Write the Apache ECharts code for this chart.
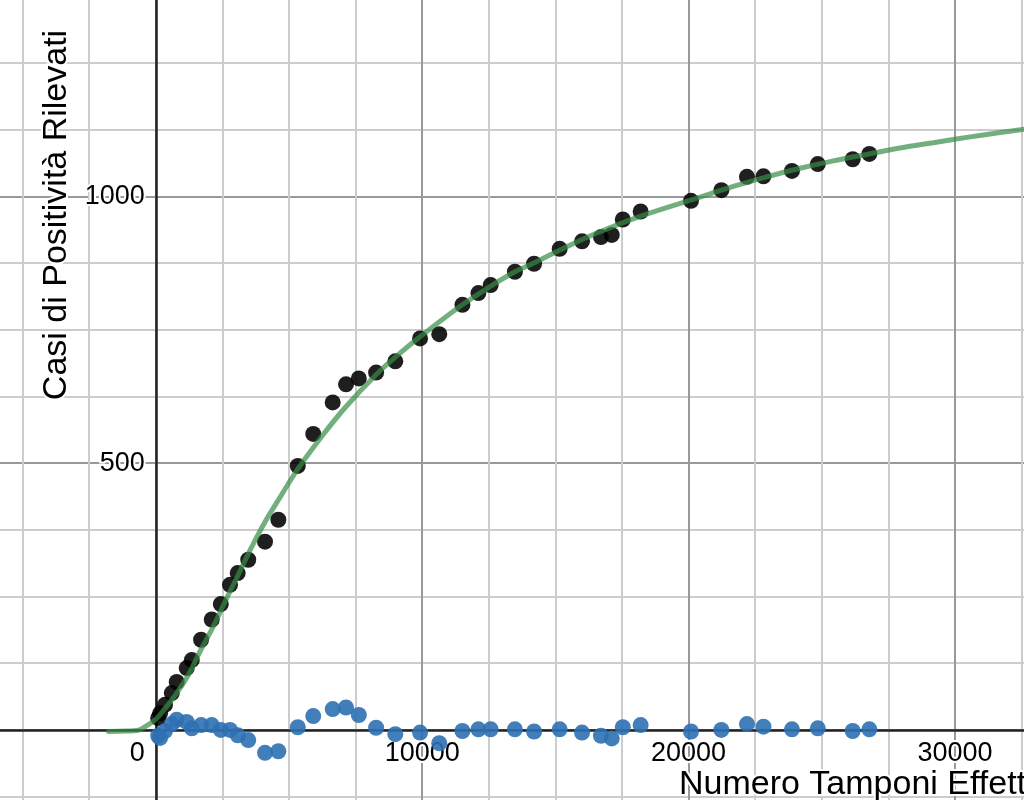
<!DOCTYPE html>
<html>
<head>
<meta charset="utf-8">
<script src="https://cdn.jsdelivr.net/npm/echarts@6/dist/echarts.min.js"></script>
<style>
  html, body { margin: 0; padding: 0; background: #fff; }
  #chart { width: 1024px; height: 800px; }
</style>
</head>
<body>
<div id="chart"></div>
<script>
// Data
const tamponi = [90,160,345,600,785,1160,1350,1700,2100,2440,2785,3075,3470,4100,4600,5330,5910,6640,7140,7620,8270,8990,9920,10640,11510,12110,12570,13480,14200,15160,16000,16710,17115,17530,18200,20090,21230,22190,22810,23880,24850,26160,26785];
const casi = [22,31,47,69,90,116,131,169,207,236,272,294,319,353,394,495,555,614,648,659,670,691,734,742,797,819,834,859,874,902,916,924,928,957,972,992,1012,1037,1038,1048,1061,1070,1080];
const residui = [-11,-15,-2,11,19,15,3,9,9,0,0,-10,-19,-43,-40,5,26,39,42,28,4,-8,-5,-25,-2,1,1,1,-3,1,-5,-11,-16,5,9,-3,0,11,6,1,3,-2,1];
const curvaX = [-1783,-1092,-706,-342,0,345,785,1220,1659,2159,2662,3086,3600,4099,4662,5327,6164,7102,8266,9092,9918,11506,12572,13484,14172,15425,16675,18177,20429,21679,22933,24183,25433,26687,27937,29187,30441,31691,32817];
const curvaY = [-3,-2,-1,8,20,40,69,103,147,194,247,290,343,390,436,489,546,604,666,703,737,797,832,859,875,906,934,963,999,1019,1037,1053,1067,1079,1091,1101,1111,1120,1128];
const xTickLabels = [10000, 20000, 30000];
const yTickLabels = [500, 1000];
const xTitle = 'Numero Tamponi Effettuati';
const yTitle = 'Casi di Positività Rilevati';

const FONT = '"Liberation Sans", Arial, sans-serif';
const chart = echarts.init(document.getElementById('chart'), null, { renderer: 'canvas' });

// layout: grid deliberately larger than the canvas so that the visible window
// is roughly x in [-5850, 32600], y in [-130, 1370]
const GRID = { left: -110.6, top: -70.1, width: 1332, height: 1066.67 };
const X_MIN = -10000, X_MAX = 40000, Y_MIN = -500, Y_MAX = 1500;
// offsets that bring each axis onto the other's zero
const xOffset = -GRID.height * (0 - Y_MIN) / (Y_MAX - Y_MIN);
const yOffset = -GRID.width * (0 - X_MIN) / (X_MAX - X_MIN);

const labelStyle = {
  fontFamily: FONT,
  fontSize: 27,
  color: '#000',
  textBorderColor: '#fff',
  textBorderWidth: 4
};

chart.setOption({
  animation: false,
  backgroundColor: '#fff',
  grid: Object.assign({ containLabel: false, outerBoundsMode: 'none' }, GRID),
  xAxis: {
    type: 'value',
    position: 'bottom',
    offset: xOffset,
    min: X_MIN, max: X_MAX, interval: 10000,
    axisLine: { onZero: false, lineStyle: { color: '#222', width: 2.5 } },
    axisTick: { show: false },
    splitLine: { show: true, lineStyle: { color: '#999', width: 2 } },
    minorTick: { show: false, splitNumber: 4 },
    minorSplitLine: { show: true, lineStyle: { color: '#ccc', width: 2 } },
    axisLabel: Object.assign({}, labelStyle, {
      margin: 10,
      hideOverlap: false,
      formatter: function (v) {
        if (v === 0) return '{z|0}';
        return xTickLabels.indexOf(v) >= 0 ? String(v) : '';
      },
      rich: { z: Object.assign({}, labelStyle, { padding: [0, 37, 0, 0] }) }
    })
  },
  yAxis: {
    type: 'value',
    position: 'left',
    offset: yOffset,
    min: Y_MIN, max: Y_MAX, interval: 500,
    axisLine: { onZero: false, lineStyle: { color: '#222', width: 2.5 } },
    axisTick: { show: false },
    splitLine: { show: true, lineStyle: { color: '#999', width: 2 } },
    minorTick: { show: false, splitNumber: 4 },
    minorSplitLine: { show: true, lineStyle: { color: '#ccc', width: 2 } },
    axisLabel: Object.assign({}, labelStyle, {
      margin: 11,
      hideOverlap: false,
      formatter: function (v) {
        return yTickLabels.indexOf(v) >= 0 ? String(v) : '';
      }
    })
  },
  series: [
    {
      name: 'Casi',
      type: 'scatter',
      z: 3,
      symbolSize: 16,
      itemStyle: { color: '#000', opacity: 0.88 },
      data: tamponi.map((x, i) => [x, casi[i]])
    },
    {
      name: 'Fit',
      type: 'line',
      z: 4,
      showSymbol: false,
      smooth: 0.4,
      lineStyle: { color: '#388c46', width: 5, opacity: 0.7, cap: 'round' },
      data: curvaX.map((x, i) => [x, curvaY[i]])
    },
    {
      name: 'Residui',
      type: 'scatter',
      z: 5,
      symbolSize: 16,
      itemStyle: { color: '#2d70b3', opacity: 0.9 },
      data: tamponi.map((x, i) => [x, residui[i]])
    }
  ],
  graphic: [
    {
      type: 'text', x: 57, y: 215, rotation: Math.PI / 2, z: 100,
      style: {
        text: yTitle, fontFamily: FONT, fontSize: 34, fill: '#000',
        align: 'center', verticalAlign: 'middle',
        stroke: '#fff', lineWidth: 4
      }
    },
    {
      type: 'text', x: 679, y: 785, z: 100,
      style: {
        text: xTitle, fontFamily: FONT, fontSize: 34, fill: '#000',
        align: 'left', verticalAlign: 'middle',
        stroke: '#fff', lineWidth: 4
      }
    }
  ]
});
</script>
</body>
</html>
